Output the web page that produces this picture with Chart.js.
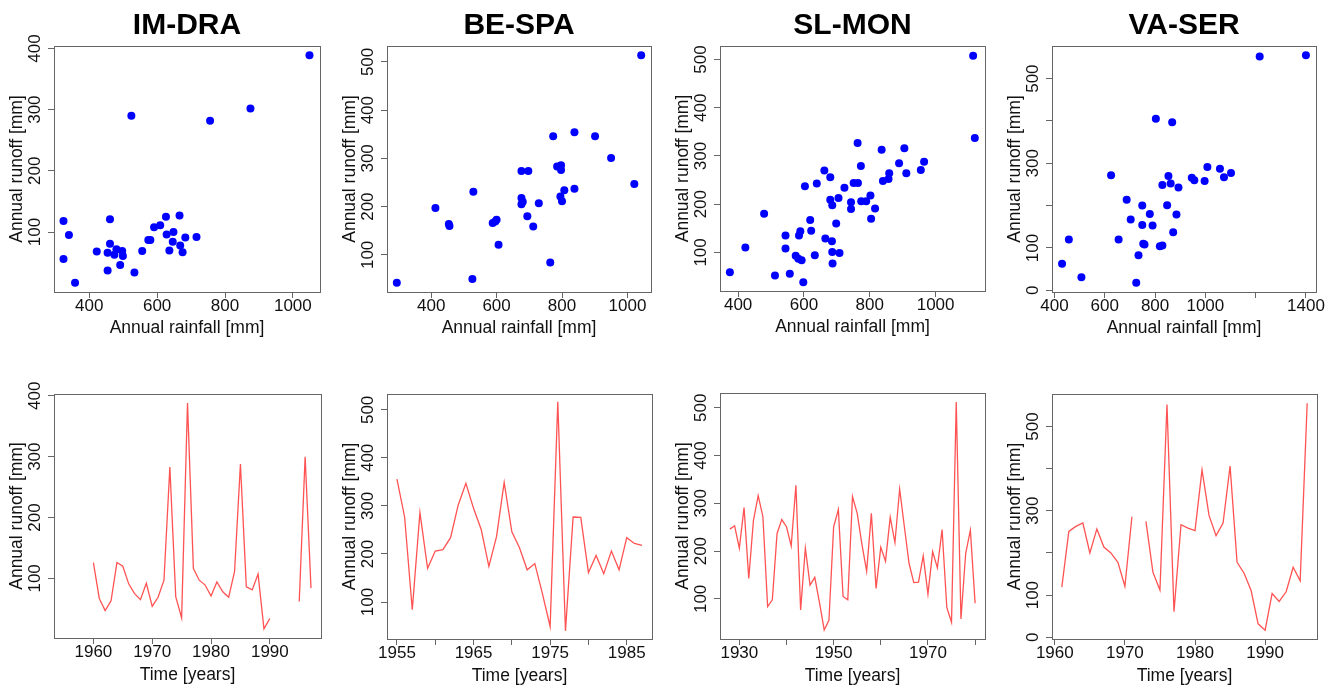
<!DOCTYPE html>
<html>
<head>
<meta charset="utf-8">
<title>Annual rainfall and runoff</title>
<script src="https://cdn.jsdelivr.net/npm/chart.js@4.4.1/dist/chart.umd.min.js"></script>
<style>
  body { margin: 0; background: #fff; width: 1338px; height: 689px; overflow: hidden; position: relative; }
  canvas { position: absolute; }
</style>
</head>
<body>
<script>
// ---- data ----
const siteNames = ['IM-DRA', 'BE-SPA', 'SL-MON', 'VA-SER'];

// scatter: annual rainfall vs annual runoff [mm]
const imRain   = [1049, 875, 756, 524, 324, 340, 324, 358, 422, 461, 461, 454, 454, 480, 474, 497, 499, 491, 533, 556, 574, 580, 591, 609, 626, 628, 636, 648, 646, 666, 668, 675, 683, 716];
const imRunoff = [389, 302, 282, 290, 118, 95, 56, 17, 68, 121, 81, 66, 37, 72, 63, 69, 61, 46, 34, 69, 87, 87, 108, 111, 125, 96, 70, 100, 84, 127, 78, 67, 91, 92];

const beRain   = [1042, 295, 413, 454, 456, 526, 529, 588, 596, 600, 606, 676, 697, 676, 676, 680, 694, 712, 729, 764, 773, 785, 797, 797, 795, 800, 807, 838, 838, 901, 950, 1021];
const beRunoff = [514, 42, 197, 164, 160, 50, 231, 166, 169, 173, 121, 274, 274, 218, 205, 210, 180, 159, 207, 84, 346, 283, 286, 276, 221, 211, 234, 237, 354, 346, 301, 247];

const slRain   = [1114, 1119, 375, 422, 479, 512, 544, 544, 557, 575, 583, 585, 589, 593, 598, 603, 619, 622, 633, 639, 662, 665, 680, 680, 685, 686, 686, 687, 698, 705, 708, 723, 743, 743, 751, 764, 763, 773, 774, 789, 802, 804, 816, 836, 840, 857, 859, 889, 905, 911, 955, 965];
const slRunoff = [508, 337, 59, 110, 180, 52, 135, 108, 56, 93, 87, 135, 144, 84, 38, 237, 167, 145, 94, 243, 270, 129, 256, 209, 123, 198, 101, 77, 160, 213, 99, 234, 204, 190, 244, 244, 327, 279, 206, 206, 218, 170, 191, 313, 248, 252, 264, 285, 316, 264, 271, 288];

const vaRain   = [1400, 1216, 430, 457, 507, 625, 655, 687, 703, 734, 725, 749, 749, 753, 758, 779, 790, 803, 819, 829, 829, 848, 853, 862, 868, 872, 885, 893, 946, 956, 997, 1008, 1058, 1074, 1102];
const vaRunoff = [555, 552, 63, 120, 31, 272, 120, 214, 167, 83, 18, 200, 154, 110, 108, 180, 153, 405, 104, 106, 249, 201, 270, 252, 397, 137, 179, 243, 266, 260, 258, 291, 287, 267, 277];

// time series of annual runoff [mm], one value per year, null = missing
const imYears = [1960, 1961, 1962, 1963, 1964, 1965, 1966, 1967, 1968, 1969, 1970, 1971, 1972, 1973, 1974, 1975, 1976, 1977, 1978, 1979, 1980, 1981, 1982, 1983, 1984, 1985, 1986, 1987, 1988, 1989, 1990, 1991, 1992, 1993, 1994, 1995, 1996, 1997];
const imSeries = [126, 67, 47, 63, 126, 120, 91, 75, 65, 92, 54, 69, 97, 283, 70, 35, 388, 116, 97, 89, 71, 94, 78, 69, 111, 288, 86, 81, 107, 17, 34, null, null, null, null, 62, 300, 84];

const beYears = [1955, 1956, 1957, 1958, 1959, 1960, 1961, 1962, 1963, 1964, 1965, 1966, 1967, 1968, 1969, 1970, 1971, 1972, 1973, 1974, 1975, 1976, 1977, 1978, 1979, 1980, 1981, 1982, 1983, 1984, 1985, 1986, 1987];
const beSeries = [356, 277, 84, 286, 170, 206, 209, 234, 302, 347, 295, 251, 174, 236, 349, 246, 213, 167, 180, 117, 49, 517, 40, 277, 276, 161, 197, 159, 206, 167, 234, 222, 218];

const slYears = [1928, 1929, 1930, 1931, 1932, 1933, 1934, 1935, 1936, 1937, 1938, 1939, 1940, 1941, 1942, 1943, 1944, 1945, 1946, 1947, 1948, 1949, 1950, 1951, 1952, 1953, 1954, 1955, 1956, 1957, 1958, 1959, 1960, 1961, 1962, 1963, 1964, 1965, 1966, 1967, 1968, 1969, 1970, 1971, 1972, 1973, 1974, 1975, 1976, 1977, 1978, 1979, 1980];
const slSeries = [246, 253, 206, 291, 143, 265, 316, 272, 84, 98, 237, 266, 251, 211, 338, 77, 206, 129, 145, 92, 35, 55, 251, 287, 105, 98, 314, 279, 214, 158, 279, 122, 208, 179, 271, 218, 330, 251, 174, 134, 135, 190, 110, 199, 165, 245, 82, 51, 512, 58, 195, 244, 91];

const vaYears = [1961, 1962, 1963, 1964, 1965, 1966, 1967, 1968, 1969, 1970, 1971, 1972, 1973, 1974, 1975, 1976, 1977, 1978, 1979, 1980, 1981, 1982, 1983, 1984, 1985, 1986, 1987, 1988, 1989, 1990, 1991, 1992, 1993, 1994, 1995, 1996];
const vaSeries = [119, 251, 263, 271, 200, 257, 214, 200, 178, 121, 286, null, 275, 154, 112, 552, 61, 267, 259, 253, 397, 289, 241, 271, 406, 178, 152, 111, 32, 17, 104, 85, 108, 166, 134, 555];

// tick values (and which of them carry a label)
const rainTicks = [400, 600, 800, 1000];
const rainTicksVA = [400, 600, 800, 1000, 1200, 1400];
const rainLabelsVA = [400, 600, 800, 1000, 1400];
const runoffTicks400 = [100, 200, 300, 400];
const runoffTicks500 = [100, 200, 300, 400, 500];
const runoffTicksVA = [0, 100, 200, 300, 400, 500];
const runoffLabelsVA = [0, 100, 300, 500];
const yearTicksIM = [1960, 1970, 1980, 1990];
const yearTicksBE = [1955, 1960, 1965, 1970, 1975, 1980, 1985];
const yearLabelsBE = [1955, 1965, 1975, 1985];
const yearTicksSL = [1930, 1940, 1950, 1960, 1970, 1980];
const yearLabelsSL = [1930, 1950, 1970];
const yearTicksVA = [1960, 1970, 1980, 1990];

// ---- drawing ----
Chart.defaults.font.family = '"Liberation Sans", Arial, sans-serif';
Chart.defaults.color = '#111';

const FONT = 17;
const AXIS_W = 56, AXIS_H = 50, PAD_R = 24, PAD_T = 22;
const frameColor = '#666';

const framePlugin = {
    id: 'frame',
    afterDraw(chart) {
        const a = chart.chartArea, ctx = chart.ctx;
        ctx.save();
        ctx.strokeStyle = frameColor;
        ctx.lineWidth = 1;
        ctx.strokeRect(Math.round(a.left) + 0.5, Math.round(a.top) + 0.5,
            Math.round(a.right - a.left), Math.round(a.bottom - a.top));
        ctx.restore();
    }
};

function axis(min, max, ticks, shown, title, opts) {
    return {
        type: 'linear',
        min: min,
        max: max,
        afterBuildTicks: s => { s.ticks = ticks.map(v => ({ value: v })); },
        afterFit: opts.afterFit,
        grid: { display: true, drawOnChartArea: false, drawTicks: true, tickLength: 6, tickColor: frameColor },
        border: { display: false },
        ticks: Object.assign({
            autoSkip: false,
            font: { size: FONT },
            color: '#111',
            callback: v => (shown || ticks).includes(v) ? String(v) : ''
        }, opts.ticks),
        title: {
            display: true,
            text: title,
            font: { size: 17.5 },
            color: '#111',
            padding: opts.titlePad
        }
    };
}

function panel(box, type, data, xr, yr, title, xTitle, xTitlePad) {
    const topRow = title !== null;
    const top = topRow ? 0 : box.t - PAD_T;
    const cv = document.createElement('canvas');
    const w = box.r - box.l + AXIS_W + PAD_R;
    const h = box.b - top + AXIS_H;
    cv.width = w; cv.height = h;
    cv.style.left = (box.l - AXIS_W) + 'px';
    cv.style.top = top + 'px';
    cv.style.width = w + 'px';
    cv.style.height = h + 'px';
    document.body.appendChild(cv);

    const ds = type === 'scatter'
        ? { data: data, backgroundColor: '#0000ff', borderWidth: 0, pointRadius: 4 }
        : { data: data, borderColor: 'rgba(255,40,40,0.8)', borderWidth: 1.3, pointRadius: 0, spanGaps: false, fill: false, tension: 0 };

    new Chart(cv, {
        type: type,
        data: { datasets: [ds] },
        options: {
            responsive: false,
            animation: false,
            events: [],
            layout: { padding: { top: topRow ? 0 : PAD_T, right: PAD_R, bottom: 0, left: 0 } },
            plugins: {
                legend: { display: false },
                tooltip: { enabled: false },
                title: {
                    display: topRow,
                    text: title || '',
                    fullSize: false,
                    color: '#000',
                    font: { size: 30, weight: 'bold' },
                    padding: { top: 7.6, bottom: box.t - 7.6 - 36 }
                }
            },
            scales: {
                x: axis(xr[0], xr[1], xr[2], xr[3], xTitle, {
                    afterFit: s => { s.height = AXIS_H; },
                    ticks: { padding: -1.5, maxRotation: 0, minRotation: 0 },
                    titlePad: { top: 0, bottom: xTitlePad }
                }),
                y: axis(yr[0], yr[1], yr[2], yr[3], 'Annual runoff [mm]', {
                    afterFit: s => { s.width = AXIS_W; },
                    ticks: { padding: -1, minRotation: 90, maxRotation: 90, crossAlign: 'center' },
                    titlePad: { top: 8.3, bottom: 0 }
                })
            }
        },
        plugins: [framePlugin]
    });
}

const pts = (xs, ys) => xs.map((x, i) => ({ x: x, y: ys[i] }));

// top row: rainfall vs runoff
panel({ l: 54, t: 46, r: 320, b: 292 }, 'scatter', pts(imRain, imRunoff),
    [296, 1080, rainTicks], [2, 404, runoffTicks400], siteNames[0], 'Annual rainfall [mm]', 3.5);
panel({ l: 387, t: 46, r: 651, b: 292 }, 'scatter', pts(beRain, beRunoff),
    [265, 1072, rainTicks], [23, 533, runoffTicks500], siteNames[1], 'Annual rainfall [mm]', 3.5);
panel({ l: 720, t: 46, r: 985, b: 291 }, 'scatter', pts(slRain, slRunoff),
    [345, 1150, rainTicks], [20, 528, runoffTicks500], siteNames[2], 'Annual rainfall [mm]', 3.5);
panel({ l: 1052, t: 46, r: 1316, b: 292 }, 'scatter', pts(vaRain, vaRunoff),
    [390, 1440, rainTicksVA, rainLabelsVA], [-4, 577, runoffTicksVA, runoffLabelsVA], siteNames[3], 'Annual rainfall [mm]', 3.5);

// bottom row: runoff through time
panel({ l: 54, t: 394, r: 321, b: 638 }, 'line', pts(imYears, imSeries),
    [1953.3, 1998.7, yearTicksIM], [2, 403, runoffTicks400], null, 'Time [years]', 2.6);
panel({ l: 387, t: 394, r: 652, b: 639 }, 'line', pts(beYears, beSeries),
    [1953.7, 1988.3, yearTicksBE, yearLabelsBE], [23, 533, runoffTicks500], null, 'Time [years]', 2.6);
panel({ l: 720, t: 393, r: 985, b: 639 }, 'line', pts(slYears, slSeries),
    [1925.9, 1982.1, yearTicksSL, yearLabelsSL], [16, 531, runoffTicks500], null, 'Time [years]', 2.6);
panel({ l: 1052, t: 394, r: 1317, b: 639 }, 'line', pts(vaYears, vaSeries),
    [1959.6, 1997.4, yearTicksVA], [-4, 577, runoffTicksVA, runoffLabelsVA], null, 'Time [years]', 2.6);
</script>
</body>
</html>
